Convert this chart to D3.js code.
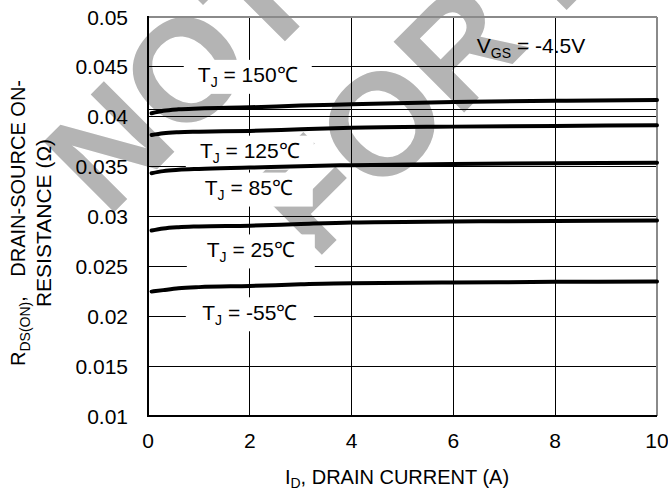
<!DOCTYPE html>
<html><head><meta charset="utf-8">
<script src="https://cdn.jsdelivr.net/npm/d3@7/dist/d3.min.js"></script>
<style>
body{margin:0;background:#fff}
svg{display:block}
text{font-family:"Liberation Sans",Arial,Helvetica,sans-serif;fill:#000}
</style>
</head><body>
<svg id="chart" width="668" height="490"></svg>
<script>
// ---- data ----
const currentA = [0.07, 0.3, 0.6, 1, 2, 3, 4, 6, 8, 10];
const rds150 = [0.04035, 0.04060, 0.04075, 0.04083, 0.04095, 0.04112, 0.04125, 0.04148, 0.04160, 0.04168];
const rds125 = [0.03818, 0.03835, 0.03845, 0.03850, 0.03858, 0.03875, 0.03890, 0.03901, 0.03908, 0.03915];
const rds85  = [0.03434, 0.03455, 0.03468, 0.03477, 0.03490, 0.03505, 0.03515, 0.03527, 0.03534, 0.03540];
const rds25  = [0.02859, 0.02880, 0.02893, 0.02900, 0.02908, 0.02925, 0.02940, 0.02950, 0.02956, 0.02959];
const rdsM55 = [0.02247, 0.02262, 0.02280, 0.02292, 0.02304, 0.02320, 0.02332, 0.02338, 0.02345, 0.02348];
const seriesValues = [rds150, rds125, rds85, rds25, rdsM55];
const seriesTemps = ["150", "125", "85", "25", "-55"];
const labelAt = [[1.96, 0.0442], [2.0, 0.0366], [1.98, 0.0329], [2.02, 0.0267], [2.0, 0.0204]];
const xTicks = [0, 2, 4, 6, 8, 10];
const xTickLabels = ["0", "2", "4", "6", "8", "10"];
const yTicks = [0.01, 0.015, 0.02, 0.025, 0.03, 0.035, 0.04, 0.045, 0.05];
const yTickLabels = ["0.01", "0.015", "0.02", "0.025", "0.03", "0.035", "0.04", "0.045", "0.05"];
const strayRule = [0.0407];
const vgsAt = [6.46, 0.0464];
const watermarkLines = ["NOT RECOMMENDED", "FOR NEW DESIGN"];

// ---- layout ----
const svg = d3.select("#chart");
const x = d3.scaleLinear().domain([0, 10]).range([148, 657]);
const y = d3.scaleLinear().domain([0.01, 0.05]).range([416, 17]);
const FS = 21;

// watermark (bottom layer)
const wm = svg.append("g").attr("transform", "translate(731,-228) rotate(-45)");
wm.selectAll("text").data(watermarkLines).join("text")
  .attr("x", 0).attr("y", (d, i) => i === 0 ? -125 : 52)
  .attr("text-anchor", "middle")
  .style("font-size", "145px").style("font-weight", "bold")
  .style("fill", "#b4b4b4")
  .text(d => d);

// gridlines
const grid = svg.append("g").attr("shape-rendering", "crispEdges");
grid.selectAll(".hg").data(yTicks.slice(1, -1).concat(strayRule)).join("line")
  .attr("x1", x(0)).attr("x2", x(10))
  .attr("y1", d => y(d)).attr("y2", d => y(d))
  .attr("stroke", "#000").attr("stroke-width", 1);
grid.selectAll(".vg").data(xTicks.slice(1, -1)).join("line")
  .attr("class", "vg")
  .attr("x1", d => x(d)).attr("x2", d => x(d))
  .attr("y1", y(0.05)).attr("y2", y(0.01))
  .attr("stroke", "#000").attr("stroke-width", 1);

// white label boxes
svg.append("g").selectAll("rect").data(labelAt).join("rect")
  .attr("x", d => x(d[0]) - 64).attr("y", d => y(d[1]) - 15)
  .attr("width", 128).attr("height", 34)
  .attr("fill", "#fff");

// frame
svg.append("line").attr("x1", x(0)).attr("x2", x(10)).attr("y1", y(0.05)).attr("y2", y(0.05))
  .attr("stroke", "#8a8a8a").attr("stroke-width", 2);
svg.append("line").attr("x1", x(10)).attr("x2", x(10)).attr("y1", y(0.05)).attr("y2", y(0.01))
  .attr("stroke", "#8a8a8a").attr("stroke-width", 2);
svg.append("line").attr("x1", x(0)).attr("x2", x(10)).attr("y1", y(0.01)).attr("y2", y(0.01))
  .attr("stroke", "#000").attr("stroke-width", 2);
svg.append("line").attr("x1", x(0)).attr("x2", x(0)).attr("y1", y(0.05) - 1).attr("y2", y(0.01) + 1)
  .attr("stroke", "#000").attr("stroke-width", 2);

// curves
const line = d3.line().x(d => x(d[0])).y(d => y(d[1])).curve(d3.curveMonotoneX);
svg.append("g").selectAll("path").data(seriesValues).join("path")
  .attr("d", vals => line(currentA.map((c, i) => [c, vals[i]])))
  .attr("fill", "none").attr("stroke", "#000").attr("stroke-width", 4)
  .attr("stroke-linecap", "round");

// curve labels
const lab = svg.append("g").selectAll("text").data(labelAt).join("text")
  .attr("x", d => x(d[0])).attr("y", d => y(d[1]) + 7.5)
  .attr("text-anchor", "middle").style("font-size", FS + "px");
lab.append("tspan").text("T");
lab.append("tspan").attr("dy", 5).style("font-size", "14px").text("J");
lab.append("tspan").attr("dy", -5).text((d, i) => " = " + seriesTemps[i] + "\u2103");

// V_GS
const vg = svg.append("text").attr("x", x(vgsAt[0])).attr("y", y(vgsAt[1])).style("font-size", FS + "px");
vg.append("tspan").text("V");
vg.append("tspan").attr("dy", 5).style("font-size", "14px").text("GS");
vg.append("tspan").attr("dy", -5).text(" = -4.5V");

// tick labels
svg.append("g").selectAll("text").data(yTicks).join("text")
  .attr("x", 128).attr("y", d => y(d) + 7.5)
  .attr("text-anchor", "end").style("font-size", FS + "px")
  .text((d, i) => yTickLabels[i]);
svg.append("g").selectAll("text").data(xTicks).join("text")
  .attr("x", d => x(d)).attr("y", 448)
  .attr("text-anchor", "middle").style("font-size", FS + "px")
  .text((d, i) => xTickLabels[i]);

// x title
const xt = svg.append("text").attr("x", 397).attr("y", 484).attr("text-anchor", "middle").style("font-size", "20px");
xt.append("tspan").text("I");
xt.append("tspan").attr("dy", 4).style("font-size", "14px").text("D");
xt.append("tspan").attr("dy", -4).text(", DRAIN CURRENT (A)");

// y title (two lines)
const yt1 = svg.append("text").attr("transform", "translate(25,223) rotate(-90)")
  .attr("text-anchor", "middle").style("font-size", "20px");
yt1.append("tspan").text("R");
yt1.append("tspan").attr("dy", 5).style("font-size", "14px").text("DS(ON)");
yt1.append("tspan").attr("dy", -5).text(",");
yt1.append("tspan").attr("dx", 14).text(" DRAIN-SOURCE ON-");
svg.append("text").attr("transform", "translate(51,223) rotate(-90)")
  .attr("text-anchor", "middle").style("font-size", "21px")
  .text("RESISTANCE (\u03A9)");
</script>
</body></html>
